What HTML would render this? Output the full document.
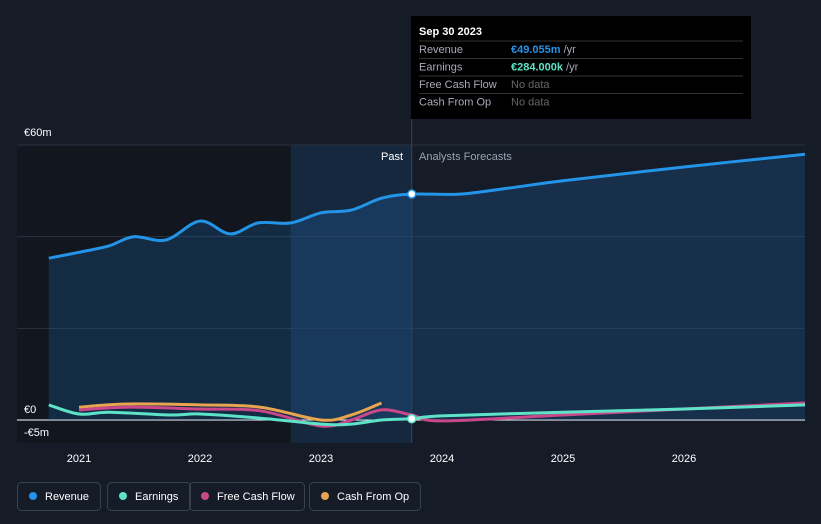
<!DOCTYPE html>
<html><head><meta charset="utf-8"><style>
body{margin:0;background:#151b27;font-family:"Liberation Sans",sans-serif;}
#wrap{position:relative;width:821px;height:524px;overflow:hidden;background:#151b27}
.t{font-size:11px;fill:#fff}
</style></head><body>
<div id="wrap">
<svg id="svg" width="821" height="524"></svg>
</div>
<script>
const years=[2021,2022,2023,2024,2025,2026];
const yTicks=[0,20,40,60];
const revX=[2020.75,2021.0,2021.25,2021.45,2021.72,2022.0,2022.25,2022.48,2022.75,2023.0,2023.25,2023.5,2023.75,2024.15,2024.55,2025.0,2026.0,2027.0];
const revY=[35.3,36.6,38,40,39.3,43.4,40.6,43,43,45.2,45.8,48.4,49.3,49.3,50.6,52.2,55.2,58];
const earnX=[2020.75,2021.0,2021.25,2021.75,2022.0,2022.5,2023.0,2023.25,2023.5,2023.75,2024.0,2025.0,2026.0,2027.0];
const earnY=[3.3,1.3,1.7,1.1,1.3,0.4,-0.9,-0.9,0,0.28,0.9,1.7,2.4,3.3];
const fcfX=[2021.0,2021.4,2022.0,2022.5,2023.0,2023.25,2023.5,2023.75,2024.0,2025.0,2026.0,2027.0];
const fcfY=[2.2,2.8,2.4,2.0,-1.3,0,2.2,1.1,-0.2,1.1,2.4,3.7];
const cfoX=[2021.0,2021.4,2022.0,2022.5,2023.0,2023.25,2023.5];
const cfoY=[2.8,3.5,3.3,2.8,0,1.1,3.7];
const X=v=>79+(v-2021)*121;
const Y=v=>420-v*4.583;
const svg=document.getElementById('svg');
const NS='http://www.w3.org/2000/svg';
function mk(tag,attrs,parent){const e=document.createElementNS(NS,tag);for(const k in attrs)e.setAttribute(k,attrs[k]);(parent||svg).appendChild(e);return e;}
let r=mk('rect',{x:17,y:145,width:X(2023.75)-17,height:298,fill:'#11161f'});


let hl=mk('rect',{x:X(2022.75),y:145,width:X(2023.75)-X(2022.75),height:298,fill:'#16283d'});


yTicks.forEach(t=>{const l=mk('line',{x1:17,x2:805,y1:Y(t),y2:Y(t),stroke:t===0?'#ffffff':'#2c3340','stroke-width':1});

});
const lbls=[['€60m',60,-9],['€0',0,-7],['-€5m',0,16]];
lbls.forEach(a=>{const t=mk('text',{x:24,y:Y(a[1])+a[2],class:'t'});t.textContent=a[0];

});
function path(xs,ys){
  const p=xs.map((x,i)=>[X(x),Y(ys[i])]);
  let d='M'+p[0][0].toFixed(1)+','+p[0][1].toFixed(1);
  for(let i=0;i<p.length-1;i++){
    const p0=p[Math.max(0,i-1)],p1=p[i],p2=p[i+1],p3=p[Math.min(p.length-1,i+2)];
    const c1=[p1[0]+(p2[0]-p0[0])/6,p1[1]+(p2[1]-p0[1])/6];
    const c2=[p2[0]-(p3[0]-p1[0])/6,p2[1]-(p3[1]-p1[1])/6];
    d+='C'+c1[0].toFixed(1)+','+c1[1].toFixed(1)+' '+c2[0].toFixed(1)+','+c2[1].toFixed(1)+' '+p2[0].toFixed(1)+','+p2[1].toFixed(1);
  }
  return d;
}
let area=mk('path',{d:path(revX,revY)+'L'+X(revX[revX.length-1])+','+Y(0)+'L'+X(revX[0])+','+Y(0)+'Z',fill:'rgba(33,120,200,0.22)'});


let dv=mk('line',{x1:X(2023.75),x2:X(2023.75),y1:16,y2:443,stroke:'#3a4250'});


const series=[[cfoX,cfoY,'#e8a44f','cash-from-op-line'],[fcfX,fcfY,'#c8488a','free-cash-flow-line'],[earnX,earnY,'#5ee3c8','earnings-line'],[revX,revY,'#2394e8','revenue-line']];
series.forEach(s=>{const p=mk('path',{d:path(s[0],s[1]),fill:'none',stroke:s[2],'stroke-width':3,'stroke-linejoin':'round'});

});
[[49.3,'#2394e8'],[0.28,'#5ee3c8']].forEach(d=>{const c=mk('circle',{cx:X(2023.75),cy:Y(d[0]),r:4,fill:'#fff',stroke:d[1],'stroke-width':1.5});

});
years.forEach(y=>{const t=mk('text',{x:X(y),y:462,class:'t','text-anchor':'middle'});t.textContent=y;

});
let tp=mk('text',{x:403,y:160,class:'t','text-anchor':'end'});tp.textContent='Past';


let tf=mk('text',{x:419,y:160,class:'t'});tf.setAttribute('style','fill:#9aa3b0');tf.textContent='Analysts Forecasts';


const tip=mk('g',{});


mk('rect',{x:411,y:16,width:340,height:103,fill:'#000'},tip);
let tt=mk('text',{x:419,y:35,class:'t','font-weight':'bold'},tip);tt.textContent='Sep 30 2023';
const rows=[['Revenue','€49.055m',' /yr','#2394e8'],['Earnings','€284.000k',' /yr','#5ee3c8'],['Free Cash Flow','No data','','#666'],['Cash From Op','No data','','#666']];
rows.forEach((rw,i)=>{const y=53+i*17.5;
mk('line',{x1:419,x2:743,y1:y-12,y2:y-12,stroke:'#333'},tip);
const a=mk('text',{x:419,y:y,class:'t',style:'fill:#aab'},tip);a.textContent=rw[0];
const b=mk('text',{x:511,y:y,class:'t',style:'fill:'+rw[3]+';font-weight:'+(rw[2]?'bold':'normal')},tip);b.textContent=rw[1];
if(rw[2]){const c=mk('tspan',{style:'fill:#aab;font-weight:normal'},b);c.textContent=rw[2];}});
const leg=[['Revenue','#2394e8',17,83],['Earnings','#5ee3c8',107,83],['Free Cash Flow','#c8488a',189,115],['Cash From Op','#e8a44f',309,111]];
leg.forEach(l=>{const g=mk('g',{});


mk('rect',{x:l[2]+0.5,y:482.5,width:l[3],height:28,rx:4,fill:'none',stroke:'#3a4250'},g);
mk('circle',{cx:l[2]+16,cy:496,r:4,fill:l[1]},g);
const t=mk('text',{x:l[2]+28,y:500,class:'t'},g);t.textContent=l[0];});
</script>
</body></html>
